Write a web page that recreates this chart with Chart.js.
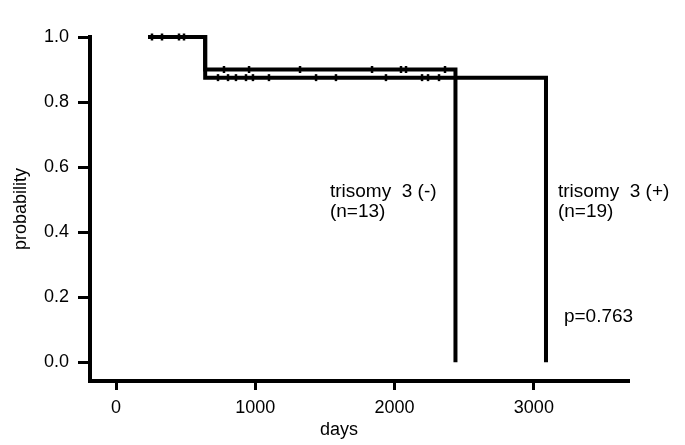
<!DOCTYPE html>
<html>
<head>
<meta charset="utf-8">
<script src="https://cdn.jsdelivr.net/npm/chart.js@4.4.1/dist/chart.umd.min.js"></script>
<style>
  html, body { margin: 0; padding: 0; background: #fff; }
  #wrap { width: 685px; height: 445px; }
</style>
</head>
<body>
<div id="wrap"><canvas id="km"></canvas></div>
<script>
// Kaplan-Meier steps, [days, survival]
var negSteps = [[230, 1.0], [640, 0.9], [2437, 0.0]];
var posSteps = [[230, 1.0], [640, 0.875], [3087, 0.0]];

// censored observations (days)
var startCensored = [258, 330, 452, 488];
var negCensored = [775, 955, 1321, 1838, 2046, 2082, 2362];
var posCensored = [732, 804, 861, 933, 983, 1098, 1436, 1579, 1938, 2197, 2240, 2319];

var xTicks = [0, 1000, 2000, 3000];
var yTicks = [0, 0.2, 0.4, 0.6, 0.8, 1.0];

// free text, anchored in data units
var labels = [
    { lines: ['trisomy  3 (-)', '(n=13)'], x: 1536, y: 0.508, size: 19, align: 'left' },
    { lines: ['trisomy  3 (+)', '(n=19)'], x: 3173, y: 0.508, size: 19, align: 'left' },
    { lines: ['p=0.763'], x: 3216, y: 0.123, size: 19, align: 'left' },
    { lines: ['days'], x: 1601, y: -0.2246, size: 18, align: 'center' }
];

var FONT = 'Liberation Sans, Arial, sans-serif';

function pts(arr) {
    return arr.map(function(p) { return { x: p[0], y: p[1] }; });
}
function marks(days, level) {
    return days.map(function(d) { return { x: d, y: level }; });
}

var stepLine = {
    showLine: true,
    stepped: true,
    borderColor: '#000',
    borderWidth: 4,
    pointRadius: 0,
    clip: false
};
var tickMark = {
    showLine: false,
    pointStyle: 'line',
    rotation: 90,
    pointRadius: 3.5,
    pointBorderWidth: 2.5,
    pointBorderColor: '#000',
    clip: false
};

var textPlugin = {
    id: 'kmText',
    afterDraw: function(chart) {
        var c = chart.ctx, xs = chart.scales.x, ys = chart.scales.y;
        c.save();
        c.fillStyle = '#000';
        c.textBaseline = 'alphabetic';
        labels.forEach(function(l) {
            var px = xs.getPixelForValue(l.x), py = ys.getPixelForValue(l.y);
            c.font = l.size + 'px ' + FONT;
            c.textAlign = l.align;
            l.lines.forEach(function(t, i) { c.fillText(t, px, py + i * 20); });
        });
        c.restore();
    }
};

new Chart(document.getElementById('km'), {
    type: 'scatter',
    data: {
        datasets: [
            Object.assign({ data: pts(negSteps) }, stepLine),
            Object.assign({ data: pts(posSteps) }, stepLine),
            Object.assign({ data: marks(startCensored, 1.0) }, tickMark),
            Object.assign({ data: marks(negCensored, 0.9) }, tickMark),
            Object.assign({ data: marks(posCensored, 0.875) }, tickMark)
        ]
    },
    options: {
        responsive: true,
        maintainAspectRatio: false,
        animation: false,
        layout: { padding: { top: 37, right: 56, left: 0, bottom: 0 } },
        plugins: { legend: { display: false }, tooltip: { enabled: false } },
        scales: {
            x: {
                type: 'linear',
                min: -187,
                max: 3683,
                afterFit: function(s) { s.height = 64; },
                afterBuildTicks: function(s) { s.ticks = xTicks.map(function(v) { return { value: v }; }); },
                border: { display: true, color: '#000', width: 4 },
                grid: { drawOnChartArea: false, drawTicks: true, tickLength: 9, tickWidth: 3, tickColor: '#000' },
                ticks: { color: '#000', font: { family: FONT, size: 18 }, padding: 7, maxRotation: 0,
                    callback: function(v) { return String(v); } }
            },
            y: {
                min: -0.058,
                max: 1.0,
                afterFit: function(s) { s.width = 90; },
                afterBuildTicks: function(s) { s.ticks = yTicks.map(function(v) { return { value: v }; }); },
                border: { display: true, color: '#000', width: 4 },
                grid: { drawOnChartArea: false, drawTicks: true, tickLength: 12, tickWidth: 3, tickColor: '#000' },
                ticks: { color: '#000', font: { family: FONT, size: 18 }, padding: 9,
                    callback: function(v) { return v.toFixed(1); } },
                title: { display: true, text: 'probability', color: '#000', font: { family: FONT, size: 18 }, padding: { top: 10, bottom: 0 } }
            }
        }
    },
    plugins: [textPlugin]
});
</script>
</body>
</html>
